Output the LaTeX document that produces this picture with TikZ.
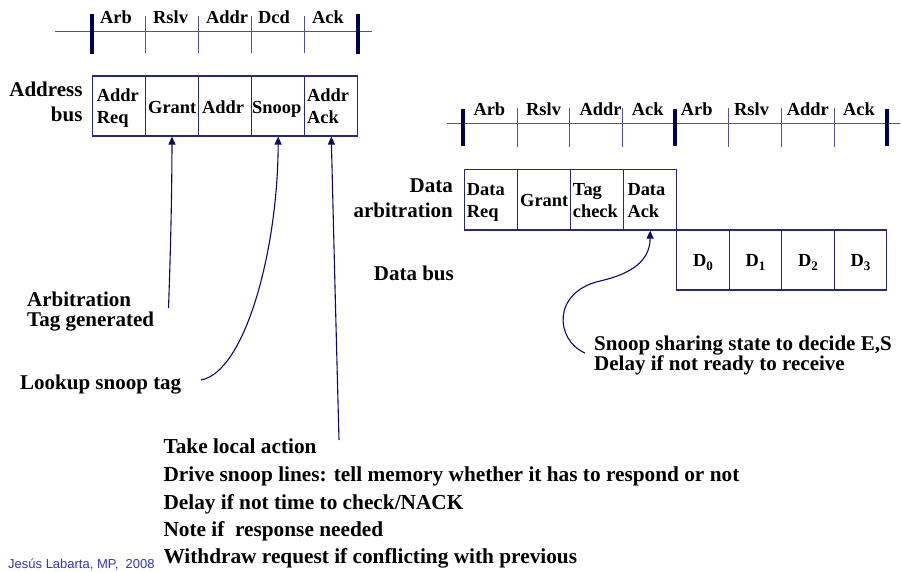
\documentclass[tikz,border=0pt]{standalone}
\usepackage{fontspec}
\setmainfont{Liberation Serif}[BoldFont={Liberation Serif Bold}]
\newfontfamily\footfont{Liberation Sans}
\usetikzlibrary{arrows.meta}

\definecolor{axiscol}{RGB}{80,80,150}
\definecolor{barcol}{RGB}{0,0,80}
\definecolor{cellcol}{RGB}{40,40,120}
\definecolor{arrowcol}{RGB}{10,10,100}
\definecolor{footcol}{RGB}{51,51,204}

\begin{document}
\begin{tikzpicture}[x=1pt,y=-1pt,
  axis/.style={draw=axiscol,line width=1pt},
  bar/.style={draw=barcol,line width=4pt},
  tickline/.style={draw=axiscol,line width=1pt},
  cell/.style={draw=cellcol,line width=1.2pt,rectangle,inner sep=0pt,minimum height=60pt},
  acell/.style={cell,minimum width=53.1pt},
  dcell/.style={cell,minimum width=52.5pt},
  phase/.style={font=\fontsize{18.4}{20}\selectfont\bfseries,anchor=base west,inner sep=0pt},
  dlabel/.style={font=\fontsize{18.4}{20}\selectfont\bfseries,anchor=base,inner sep=0pt},
  side/.style={font=\fontsize{21}{22}\selectfont\bfseries,anchor=base east,inner sep=0pt},
  note/.style={font=\fontsize{21}{22}\selectfont\bfseries,anchor=base west,inner sep=0pt},
  lnote/.style={font=\fontsize{21.3}{22}\selectfont\bfseries,anchor=base west,inner sep=0pt},
  callout/.style={draw=arrowcol,line width=1.1pt,-{Triangle[length=8pt,width=7pt]}},
]
\useasboundingbox (0,0) rectangle (901,571);
\fill[white] (0,0) rectangle (901,571);

% ---------- address bus: phase axis ----------
\draw[axis] (55,31) -- (372,31);
\foreach \x in {145.4,198.5,251.5,304.6} \draw[tickline] (\x,16) -- (\x,53);
\draw[bar] (92.3,14) -- (92.3,54);
\draw[bar] (357.5,14) -- (357.5,54);
\node[phase] (aArb)  at (100,23) {Arb};
\node[phase] (aRslv) at (153,23) {Rslv};
\node[phase] (aAddr) at (206,23) {Addr};
\node[phase] (aDcd)  at (258,23) {Dcd};
\node[phase] (aAck)  at (312,23) {Ack};

% ---------- address bus cells ----------
\node[side] (sAddress) at (82.7,96.7) {Address};
\node[side] (sBus)     at (82.7,121.7) {bus};
\node[acell] (cAR) at (118.85,106) {};
\node[acell] (cG)  at (171.95,106) {};
\node[acell] (cA)  at (225.05,106) {};
\node[acell] (cS)  at (278.15,106) {};
\node[acell] (cAA) at (331.25,106) {};
\node[phase] (tAR1) at (96.7,101.7) {Addr};
\node[phase] (tAR2) at (96.7,123) {Req};
\node[phase] (tG)   at (148,113) {Grant};
\node[phase] (tA)   at (202,113) {Addr};
\node[phase] (tS)   at (252,113) {Snoop};
\node[phase] (tAA1) at (307,101.7) {Addr};
\node[phase] (tAA2) at (307,123) {Ack};

% ---------- callouts to the address bus ----------
\coordinate (eGrant) at (168.5,308);
\coordinate (eSnoop) at (201,380);
\coordinate (eAck)   at (339,440);
\coordinate (kAck)   at (335,287);
\draw[callout] (eGrant) .. controls (171,240) and (172,180) .. (cG.south);
\draw[callout] (eSnoop) .. controls (245,372) and (278,250) .. (cS.south);
\draw[callout] (eAck) -- (kAck) -- (cAA.south);

\node[note] (nArb1) at (27,306) {Arbitration};
\node[note] (nArb2) at (27,326) {Tag generated};
\node[note] (nLook) at (20,389) {Lookup snoop tag};

\node[lnote] (nB1) at (163.3,453.3) {Take local action};
\node[lnote] (nB2) at (163.3,481.7) {Drive snoop lines: tell memory whether it has to respond or not};
\node[lnote] (nB3) at (163.3,509) {Delay if not time to check/NACK};
\node[lnote] (nB4) at (163.3,536.7) {Note if~ response needed};
\node[lnote] (nB5) at (163.3,563.3) {Withdraw request if conflicting with previous};

% ---------- data bus: phase axis ----------
\draw[axis] (447,123) -- (900,123);
\foreach \x in {517,569.5,622,728,781,834} \draw[tickline] (\x,108) -- (\x,147);
\foreach \x in {463,675,887} \draw[bar] (\x,109) -- (\x,146);
\node[phase] (dArb1)  at (473.3,115) {Arb};
\node[phase] (dRslv1) at (526,115) {Rslv};
\node[phase] (dAddr1) at (579.3,115) {Addr};
\node[phase] (dAck1)  at (631.7,115) {Ack};
\node[phase] (dArb2)  at (680.7,115) {Arb};
\node[phase] (dRslv2) at (734,115) {Rslv};
\node[phase] (dAddr2) at (786.7,115) {Addr};
\node[phase] (dAck2)  at (843,115) {Ack};

% ---------- data arbitration cells ----------
\node[side] (sData)  at (453,192) {Data};
\node[side] (sArbit) at (453,217) {arbitration};
\node[acell,minimum height=60.7pt] (cDR) at (490.85,199.65) {};
\node[acell,minimum height=60.7pt] (cDG) at (543.95,199.65) {};
\node[acell,minimum height=60.7pt] (cTC) at (597.05,199.65) {};
\node[acell,minimum height=60.7pt] (cDA) at (650.15,199.65) {};
\node[phase] (tDR1) at (466.7,195) {Data};
\node[phase] (tDR2) at (466.7,217.3) {Req};
\node[phase] (tDG)  at (520,206.7) {Grant};
\node[phase] (tTC1) at (572.7,195) {Tag};
\node[phase] (tTC2) at (572.7,217.3) {check};
\node[phase] (tDA1) at (627.3,195) {Data};
\node[phase] (tDA2) at (627.3,217.3) {Ack};

% ---------- data bus cells ----------
\node[side] (sDataBus) at (454,280) {Data bus};
\node[dcell] (cD0) at (702.95,260) {};
\node[dcell] (cD1) at (755.45,260) {};
\node[dcell] (cD2) at (807.95,260) {};
\node[dcell] (cD3) at (860.45,260) {};
\foreach \i/\x in {0/702.95,1/755.45,2/807.95,3/860.45}
  \node[dlabel] (tD\i) at (\x,266.7) {D\raisebox{-4pt}{\fontsize{13}{13}\selectfont\bfseries \i}};

% ---------- callout to the data acknowledge ----------
\coordinate (eShare) at (585,353);
\draw[callout] (eShare) .. controls (555,340) and (552,292) .. (600,281)
               .. controls (640,272) and (650,255) .. (cDA.south);
\node[note] (nSh1) at (594,350) {Snoop sharing state to decide E,S};
\node[note] (nSh2) at (594,370) {Delay if not ready to receive};

% ---------- footer ----------
\node[font=\footfont\fontsize{13}{14}\selectfont,text=footcol,anchor=base west,inner sep=0pt]
  (foot) at (8,568) {Jesús Labarta, MP,~ 2008};
\end{tikzpicture}
\end{document}
